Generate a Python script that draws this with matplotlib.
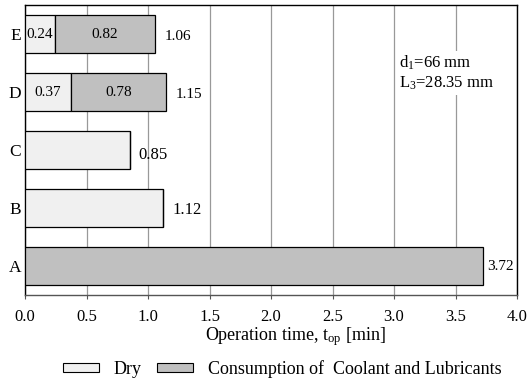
import matplotlib
matplotlib.use("Agg")
import matplotlib.pyplot as plt
from matplotlib.patches import Patch

plt.rcParams['font.family'] = ['Liberation Serif', 'DejaVu Serif']
plt.rcParams['mathtext.fontset'] = 'custom'
plt.rcParams['mathtext.rm'] = 'Liberation Serif'
plt.rcParams['mathtext.it'] = 'Liberation Serif'

categories = ['A', 'B', 'C', 'D', 'E']
dry = [0.0, 1.12, 0.85, 0.37, 0.24]
coolant = [3.72, 0.0, 0.0, 0.78, 0.82]
totals = [3.72, 1.12, 0.85, 1.15, 1.06]
xticks = [0.0, 0.5, 1.0, 1.5, 2.0, 2.5, 3.0, 3.5, 4.0]

dry_color = '#f0f0f0'
cool_color = '#c0c0c0'

fig = plt.figure(figsize=(5.31, 3.80), dpi=100)
ax = fig.add_axes([25/531, 1-295/380, (517-25)/531, (295-5)/380])

ypos = list(range(len(categories)))
h = 0.67
ax.barh(ypos, dry, height=h, color=dry_color, edgecolor='black', linewidth=0.9, zorder=3)
ax.barh(ypos, coolant, left=dry, height=h, color=cool_color, edgecolor='black', linewidth=0.9, zorder=3)

fs_val = 11
for i in ypos:
    if dry[i] > 0 and coolant[i] > 0:
        ax.text(dry[i]/2, i, f'{dry[i]:.2f}', ha='center', va='center', fontsize=fs_val, zorder=4)
        ax.text(dry[i] + coolant[i]/2, i, f'{coolant[i]:.2f}', ha='center', va='center', fontsize=fs_val, zorder=4)
        ax.text(totals[i] + 0.075, i - 0.05, f'{totals[i]:.2f}', ha='left', va='center', fontsize=fs_val, zorder=4)
    elif i == 0:
        ax.text(totals[i] + 0.04, i, f'{totals[i]:.2f}', ha='left', va='center', fontsize=fs_val, zorder=4)
    else:
        dy = 0.08 if i == 2 else 0.03
        ax.text(totals[i] + 0.075, i - dy, f'{totals[i]:.2f}', ha='left', va='center', fontsize=12, zorder=4)

ax.set_xlim(0, 4.0)
ax.set_ylim(-0.5, 4.5)
ax.set_xticks(xticks)
ax.set_xticklabels([f'{t:.1f}' for t in xticks], fontsize=12)
ax.set_yticks(ypos)
ax.set_yticklabels(categories, fontsize=12.5)
ax.tick_params(axis='y', length=0, pad=3)
ax.tick_params(axis='x', direction='out', length=3, color='#555555', pad=7)
ax.grid(axis='x', color='#999999', linewidth=0.9, zorder=0)
ax.set_axisbelow(True)
for s in ax.spines.values():
    s.set_linewidth(1.0)
    s.set_color('black')
ax.spines['bottom'].set_color('#555555')

ax.set_xlabel('Operation time, t$_{\\rm op}$ [min]', fontsize=13)
ax.xaxis.set_label_coords((295-25)/492, -(337-295)/290, transform=ax.transAxes)
ax.xaxis.label.set_va('center')

ax.text(3.04, 3.33, 'd$_1$=66 mm\nL$_3$=28.35 mm', fontsize=12, ha='left', va='center',
        linespacing=1.25, zorder=5,
        bbox=dict(facecolor='white', edgecolor='none', pad=2))

handles = [Patch(facecolor=dry_color, edgecolor='black', linewidth=0.8, label='Dry'),
           Patch(facecolor=cool_color, edgecolor='black', linewidth=0.8, label='Consumption of  Coolant and Lubricants')]
fig.legend(handles=handles, loc='center', bbox_to_anchor=(282/531, 1-369/380), ncol=2, frameon=False,
           fontsize=13, handlelength=2.0, handleheight=0.4, columnspacing=0.9, handletextpad=0.78,
           borderpad=0.1)

fig.savefig('out.png', dpi=100)
